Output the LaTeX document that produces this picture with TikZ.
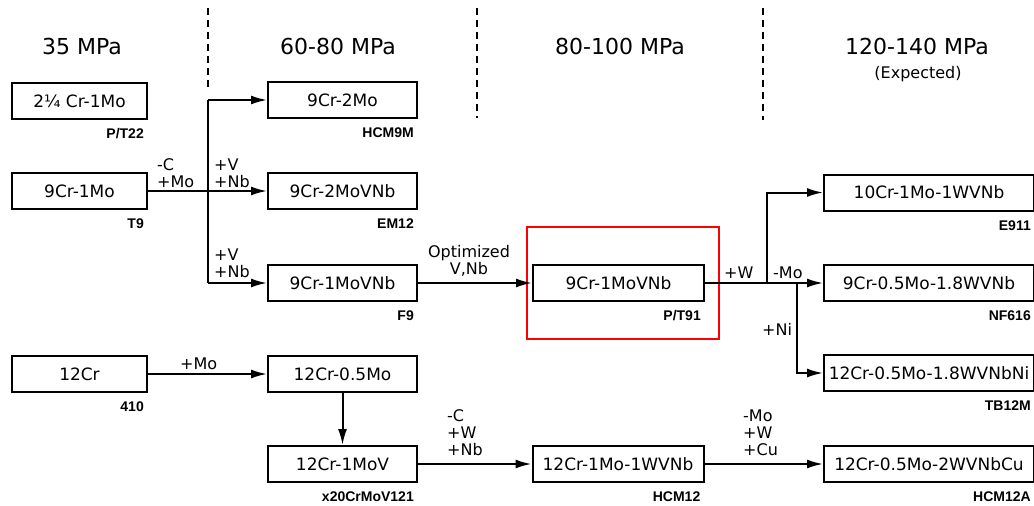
\documentclass[tikz,border=0pt]{standalone}
\usepackage{fontspec}
\setmainfont{DejaVu Sans}
\newfontfamily\tagfont{Liberation Sans}
\usetikzlibrary{arrows.meta}
\newcommand{\alloy}[5]{\node[alloybox,minimum width=#3] (#1) at (#2) {#4};
	\node[tagtext] (#1tag) at ([xshift=-4pt,yshift=-14pt]#1.south east) {#5}}
\newcommand{\sep}[2]{\draw[sepline] (#1,8) -- (#1,#2)}

\begin{document}
\begin{tikzpicture}[x=1pt,y=-1pt,
	alloybox/.style={draw,line width=2pt,minimum height=36pt,inner sep=0pt,
		font=\fontsize{17}{17}\selectfont},
	tagtext/.style={anchor=east,inner sep=0pt,font=\tagfont\bfseries\fontsize{14}{14}\selectfont},
	head/.style={inner sep=0pt,font=\fontsize{22}{22}\selectfont},
	addtext/.style={inner sep=0pt,align=left,anchor=south west,font=\fontsize{16}{17}\selectfont},
	flow/.style={line width=2pt,-{Latex[length=16pt,width=9pt]}},
	link/.style={line width=2pt},
	sepline/.style={line width=2.2pt,dash pattern=on 7pt off 5pt}]
	\useasboundingbox (0,0) rectangle (1034,506);
	% pressure ranges
	\sep{208}{88};
	\sep{477}{118};
	\sep{763}{120};
	\node[head] (p35) at (82,46) {35 MPa};
	\node[head] (p60) at (338,46) {60-80 MPa};
	\node[head] (p80) at (620,46) {80-100 MPa};
	\node[head] (p120) at (917,46) {120-140 MPa};
	\node[inner sep=0pt,font=\fontsize{16}{16}\selectfont] (expd) at (918,74) {(Expected)};
	% steels
	\alloy{t22}{79.5,101}{135pt}{2¼ Cr-1Mo}{P/T22};
	\alloy{t9}{79.5,191}{135pt}{9Cr-1Mo}{T9};
	\alloy{s410}{79.5,374}{135pt}{12Cr}{410};
	\alloy{hcm9m}{342.5,100}{149pt}{9Cr-2Mo}{HCM9M};
	\alloy{em12}{342.5,191}{149pt}{9Cr-2MoVNb}{EM12};
	\alloy{f9}{342.5,283}{149pt}{9Cr-1MoVNb}{F9};
	\alloy{cr05}{342.5,374}{149pt}{12Cr-0.5Mo}{};
	\alloy{x20}{342.5,464}{149pt}{12Cr-1MoV}{x20CrMoV121};
	\alloy{t91}{618.5,283}{171pt}{9Cr-1MoVNb}{P/T91};
	\alloy{hcm12}{618,464}{171pt}{12Cr-1Mo-1WVNb}{HCM12};
	\alloy{e911}{929,192.5}{210pt}{10Cr-1Mo-1WVNb}{E911};
	\alloy{nf616}{929,283}{210pt}{9Cr-0.5Mo-1.8WVNb}{NF616};
	\alloy{tb12m}{929,373}{210pt}{12Cr-0.5Mo-1.8WVNbNi}{TB12M};
	\alloy{hcm12a}{929,464}{210pt}{12Cr-0.5Mo-2WVNbCu}{HCM12A};
	\draw[red,line width=2.5pt] (527,227) rectangle (719,339);
	% branches
	\coordinate (jtop) at (208,100);
	\coordinate (jbot) at (208,283);
	\coordinate (jw) at (767,283);
	\coordinate (jni) at (797,283);
	\draw[link] (jtop) -- (jbot);
	\draw[flow] (jtop) -- (hcm9m.west);
	\draw[flow] (t9.east) -- (em12.west);
	\draw[flow] (jbot) -- (f9.west);
	\draw[flow] (f9.east) -- (t91.west);
	\draw[flow] (t91.east) -- (nf616.west);
	\draw[flow] (jw) |- (e911.west);
	\draw[flow] (jni) |- (tb12m.west);
	\draw[flow] (s410.east) -- (cr05.west);
	\draw[flow] (cr05.south) -- (x20.north);
	\draw[flow] (x20.east) -- (hcm12.west);
	\draw[flow] (hcm12.east) -- (hcm12a.west);
	% additions
	\node[addtext] (cmo) at (157,188) {-C\\+Mo};
	\node[addtext] (vnb1) at (214,188) {+V\\+Nb};
	\node[addtext] (vnb2) at (214,278) {+V\\+Nb};
	\node[addtext,align=center,anchor=south] (opt) at (469,277) {Optimized\\V,Nb};
	\node[addtext] (addw) at (724,279) {+W};
	\node[addtext] (lessmo) at (773,279) {-Mo};
	\node[addtext] (addni) at (762,336) {+Ni};
	\node[addtext] (addmo) at (180,370) {+Mo};
	\node[addtext] (cwnb) at (447,456) {-C\\+W\\+Nb};
	\node[addtext] (mowcu) at (743,456) {-Mo\\+W\\+Cu};
\end{tikzpicture}
\end{document}
